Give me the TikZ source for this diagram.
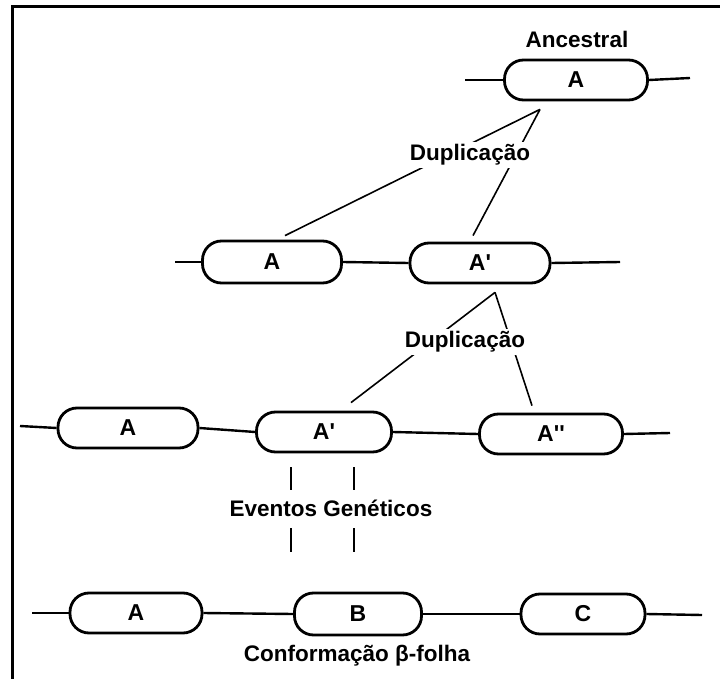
\documentclass[tikz,border=0pt]{standalone}
\usepackage{fontspec}
\setmainfont{Liberation Sans}
\usetikzlibrary{calc}
\tikzstyle{gene} = [rectangle, draw=black, rounded corners=19pt, line width=2.8pt, minimum height=40pt, minimum width=138pt, inner sep=0pt, font=\fontsize{23}{25}\selectfont\bfseries]
\tikzstyle{rotulo} = [fill=white, inner sep=3pt, font=\fontsize{22.5}{25}\selectfont\bfseries]
\tikzstyle{fio} = [line width=2.4pt]
\tikzstyle{ramo} = [line width=1.6pt]

\begin{document}
\begin{tikzpicture}[x=1pt, y=-1pt]

        \useasboundingbox (0,0) rectangle (720,679);
        \draw[line width=3pt] (12,679) -- (12,7) -- (720,7);

        \node (anc) [gene, minimum width=143pt] at (576,80) {A};
        \node (lbanc) [font=\fontsize{22.5}{25}\selectfont\bfseries] at (577,39) {Ancestral};
        \coordinate (anc0) at (465,80);
        \coordinate (anc1) at (690,78);
        \draw[fio] (anc0) -- (anc.west);
        \draw[fio] (anc.east) -- (anc1);

        \node (d1) [gene, minimum width=139pt, minimum height=42pt] at (272,262) {A};
        \node (d2) [gene, minimum width=140pt] at (480,263) {A\textquotesingle};
        \coordinate (d0) at (175,262);
        \coordinate (d3) at (620,262);
        \draw[fio] (d0) -- (d1.west);
        \draw[fio] (d1.east) -- (d2.west);
        \draw[fio] (d2.east) -- (d3);

        \node (t1) [gene, minimum width=140pt] at (128,428) {A};
        \node (t2) [gene, minimum width=135pt] at (324,432) {A\textquotesingle};
        \node (t3) [gene, minimum width=143pt] at (551,434) {A\textquotesingle\textquotesingle};
        \coordinate (t0) at (20,426);
        \coordinate (t4) at (670,433);
        \draw[fio] (t0) -- (t1.west);
        \draw[fio] (t1.east) -- (t2.west);
        \draw[fio] (t2.east) -- (t3.west);
        \draw[fio] (t3.east) -- (t4);

        \node (q1) [gene, minimum width=132pt] at (136,613) {A};
        \node (q2) [gene, minimum width=127pt, minimum height=42pt] at (358,614) {B};
        \node (q3) [gene, minimum width=124pt] at (583,614) {C};
        \coordinate (q0) at (32,613);
        \coordinate (q4) at (702,615);
        \draw[fio] (q0) -- (q1.west);
        \draw[fio] (q1.east) -- (q2.west);
        \draw[fio] (q2.east) -- (q3.west);
        \draw[fio] (q3.east) -- (q4);

        \coordinate (dup1) at ($(anc.south)+(-36,8)$);
        \draw[ramo] (dup1) -- ($(d1.north)+(13,-4)$);
        \draw[ramo] (dup1) -- ($(d2.north)+(-7,-6)$);
        \coordinate (dup2) at ($(d2.south)+(15,8)$);
        \draw[ramo] (dup2) -- ($(t2.north)+(27,-8)$);
        \draw[ramo] (dup2) -- ($(t3.north)+(-19,-7)$);

        \node (lbd1) [rotulo] at (470,155) {Duplicação};
        \node (lbd2) [rotulo] at (465,342) {Duplicação};

        \node (lbev) [font=\fontsize{22.5}{25}\selectfont\bfseries] at (331,508) {Eventos Genéticos};
        \draw[fio] (291,467) -- (291,490);
        \draw[fio] (354,467) -- (354,490);
        \draw[fio] (291,528) -- (291,552);
        \draw[fio] (354,528) -- (354,552);

        \node (lbcf) [font=\fontsize{22.5}{25}\selectfont\bfseries] at (357,656) {Conformação β-folha};

    \end{tikzpicture}
\end{document}
